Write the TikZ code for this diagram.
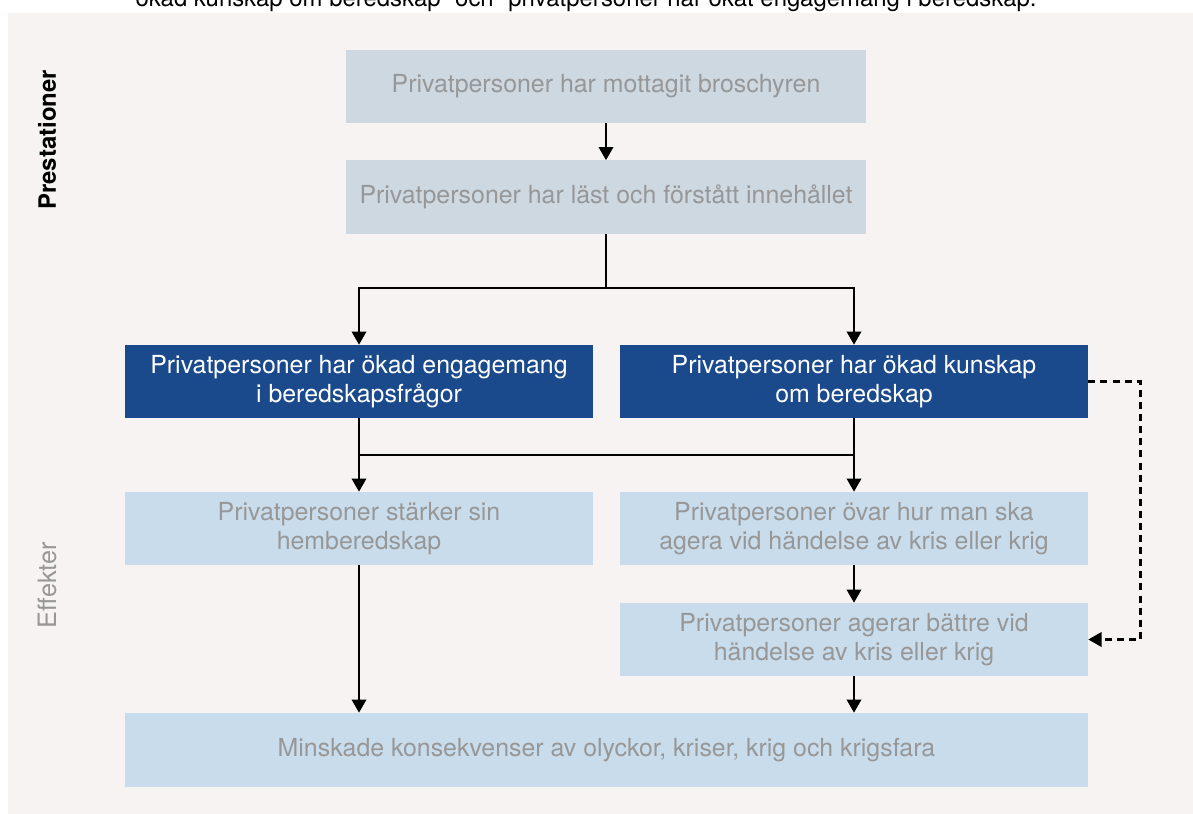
\documentclass[tikz,border=0pt]{standalone}
\usepackage{fontspec}
\setmainfont{TeX Gyre Heros}
\usetikzlibrary{arrows.meta}
\definecolor{bgbeige}{HTML}{F7F3F2}
\definecolor{paleblue}{HTML}{CDD8E1}
\definecolor{lightblue}{HTML}{C9DCEB}
\definecolor{darkblue}{HTML}{1A4A8C}
\definecolor{textgray}{HTML}{979797}
\tikzset{
  box/.style={minimum width=11.7cm, minimum height=1.825cm, align=center, inner sep=0pt, font=\fontsize{17.7}{20.9}\selectfont},
  topbox/.style={box, fill=paleblue, text=textgray, minimum width=13cm},
  keybox/.style={box, fill=darkblue, text=white},
  effbox/.style={box, fill=lightblue, text=textgray},
  link/.style={line width=1.7pt, ->},
  sidelabel/.style={rotate=90, font=\fontsize{18}{20}\selectfont}
}

\begin{document}
\begin{tikzpicture}[x=0.025cm, y=-0.025cm, >={Triangle[width=0.36cm,length=0.33cm]}]
\useasboundingbox (0,0) rectangle (1193,814);
\fill[white] (0,0) rectangle (1193,814);
\fill[bgbeige] (8,13) rectangle (1193,814);
\node[anchor=base, font=\fontsize{17}{20}\selectfont] (intro) at (586,7) {ökad kunskap om beredskap” och ”privatpersoner har ökat engagemang i beredskap.};
\node[sidelabel, font=\fontsize{17}{20}\selectfont\bfseries] (prest) at (47,140) {Prestationer};
\node[sidelabel, text=textgray] (effekt) at (47,585) {Effekter};
\node[topbox] (received) at (606,86.5) {Privatpersoner har mottagit broschyren};
\node[topbox] (read) at (606,197) {Privatpersoner har läst och förstått innehållet};
\node[keybox] (engage) at (359,381.5) {Privatpersoner har ökad engagemang\\i beredskapsfrågor};
\node[keybox] (know) at (854,381.5) {Privatpersoner har ökad kunskap\\om beredskap};
\node[effbox] (home) at (359,528.5) {Privatpersoner stärker sin\\hemberedskap};
\node[effbox] (practice) at (854,528.5) {Privatpersoner övar hur man ska\\agera vid händelse av kris eller krig};
\node[effbox] (act) at (854,639.5) {Privatpersoner agerar bättre vid\\händelse av kris eller krig};
\node[effbox, minimum width=24.075cm, minimum height=1.85cm] (result) at (606.5,750) {Minskade konsekvenser av olyckor, kriser, krig och krigsfara};
\coordinate (split) at (606,288);
\coordinate (joinL) at (359,455);
\coordinate (joinR) at (854,455);
\draw[link] (received) -- (read);
\draw[line width=1.7pt] (read.south) -- (split);
\draw[link] (split) -| (engage.north);
\draw[link] (split) -| (know.north);
\draw[link] (engage) -- (home);
\draw[link] (know) -- (practice);
\draw[line width=1.7pt] (joinL) -- (joinR);
\draw[link] (practice) -- (act);
\draw[link] (act.south) -- (act.south |- result.north);
\draw[link] (home.south) -- (home.south |- result.north);
\draw[link, dash pattern=on 5pt off 3.6pt] (know.east) -- ++(52,0) |- (act.east);
\end{tikzpicture}
\end{document}
